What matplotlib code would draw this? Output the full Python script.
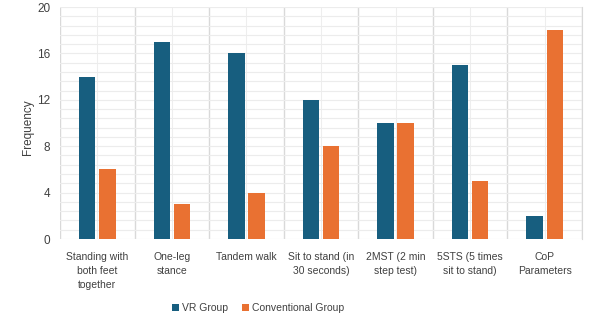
import matplotlib
matplotlib.use("Agg")
import matplotlib.pyplot as plt
import numpy as np
from matplotlib.ticker import MultipleLocator

categories = ["Standing with\nboth feet\ntogether", "One-leg\nstance", "Tandem walk",
              "Sit to stand (in\n30 seconds)", "2MST (2 min\nstep test)",
              "5STS (5 times\nsit to stand)", "CoP\nParameters"]
vr_group = [14, 17, 16, 12, 10, 15, 2]
conventional_group = [6, 3, 4, 8, 10, 5, 18]
series_names = ["VR Group", "Conventional Group"]
yticks = [0, 4, 8, 12, 16, 20]

plt.rcParams['font.family'] = ['Liberation Sans', 'DejaVu Sans']

fig = plt.figure(figsize=(6.09, 3.29), dpi=100)
ax = fig.add_axes([60/609, 1-239/329, 522/609, 232/329])

x = np.arange(len(categories))
w = 0.22
off = 0.135
ax.bar(x - off, vr_group, w, color="#175E7F", label=series_names[0], zorder=3)
ax.bar(x + off, conventional_group, w, color="#E97132", label=series_names[1], zorder=3)

ax.set_xlim(-0.5, len(categories) - 0.5)
ax.set_ylim(0, 20)
ax.set_yticks(yticks)
ax.yaxis.set_minor_locator(MultipleLocator(0.8))
ax.set_xticks(x)
ax.set_xticklabels(categories, fontsize=7.5, color="#404040", linespacing=1.55, va="top")
ax.set_xticks(np.arange(-0.5, len(categories)), minor=True)
ax.tick_params(axis="x", which="both", length=0, pad=9)
ax.tick_params(axis="y", which="both", length=0, labelsize=8.5, labelcolor="#404040", pad=7)

ax.grid(axis="y", which="both", color="#ececec", linewidth=0.8, zorder=0)
ax.grid(axis="x", which="major", color="#eeeeee", linewidth=0.8, zorder=0)
ax.grid(axis="x", which="minor", color="#d9d9d9", linewidth=1.0, zorder=0)
for s in ["top", "left", "bottom"]:
    ax.spines[s].set_visible(False)
ax.spines["right"].set_color("#d9d9d9")

ax.set_ylabel("Frequency", fontsize=8.5, color="#404040")
ax.yaxis.set_label_coords((34 - 60) / 522, 0.48)

fig.legend(loc="center", bbox_to_anchor=(258/609, 1-308/329), ncol=2, frameon=False,
           fontsize=7.5, handlelength=0.7, handleheight=0.7, columnspacing=1.3,
           handletextpad=0.3, labelcolor="#404040")

fig.savefig("out.png", dpi=100)
